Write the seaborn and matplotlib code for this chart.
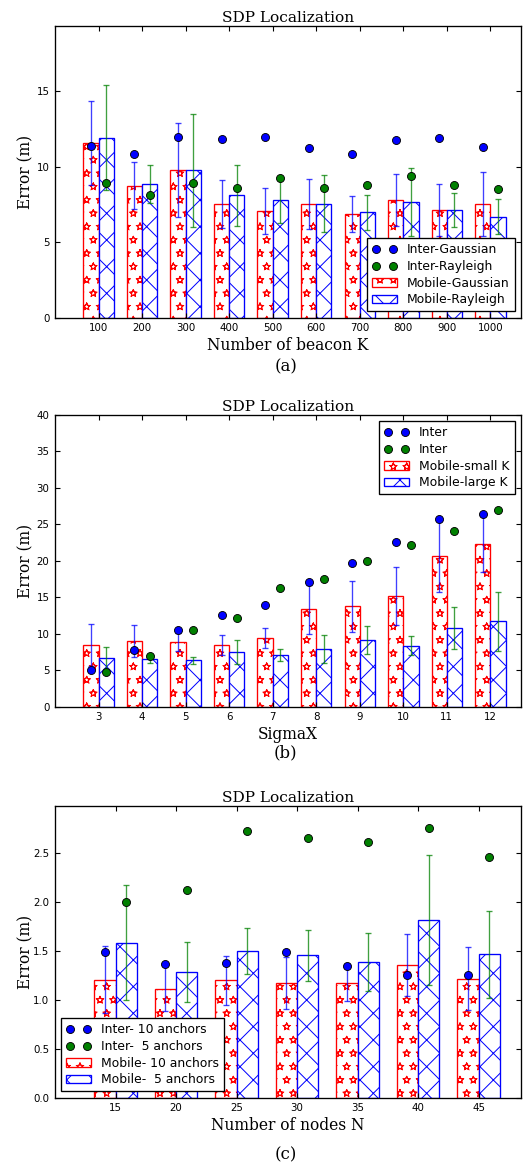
import numpy as np
import pandas as pd
import matplotlib
matplotlib.use('Agg')
import matplotlib.hatch
import matplotlib.pyplot as plt
import seaborn as sns
from matplotlib.lines import Line2D
from matplotlib.patches import Patch

# Panel (a): number of beacons K
beacons = [100, 200, 300, 400, 500, 600, 700, 800, 900, 1000]
a_mobile_gauss = [11.55, 8.74, 9.78, 7.51, 7.05, 7.51, 6.85, 7.77, 7.13, 7.53]
a_mobile_gauss_err = [2.76, 1.55, 3.10, 1.59, 1.52, 1.67, 1.18, 1.73, 1.70, 2.14]
a_mobile_rayl = [11.92, 8.85, 9.76, 8.09, 7.77, 7.53, 6.98, 7.68, 7.13, 6.69]
a_mobile_rayl_err = [3.45, 1.28, 3.74, 2.01, 1.50, 1.89, 1.15, 2.25, 1.10, 1.15]
a_inter_gauss = [11.37, 10.84, 11.97, 11.81, 11.95, 11.26, 10.84, 11.75, 11.88, 11.30]
a_inter_rayl = [8.90, 8.15, 8.94, 8.59, 9.21, 8.59, 8.79, 9.36, 8.81, 8.52]
a_labels = ['Inter-Gaussian', 'Inter-Rayleigh', 'Mobile-Gaussian', 'Mobile-Rayleigh']

# Panel (b): SigmaX
sigma = [3, 4, 5, 6, 7, 8, 9, 10, 11, 12]
b_mobile_small = [8.42, 9.01, 8.87, 8.46, 9.38, 13.36, 13.77, 15.23, 20.63, 22.36]
b_mobile_small_err = [2.88, 2.17, 1.27, 1.35, 1.37, 3.39, 3.50, 3.98, 4.90, 3.93]
b_mobile_large = [6.68, 6.59, 6.36, 7.50, 7.05, 7.92, 9.19, 8.33, 10.80, 11.71]
b_mobile_large_err = [1.47, 0.60, 0.52, 1.60, 0.85, 1.97, 1.94, 1.30, 2.93, 4.05]
b_inter_small = [5.03, 7.82, 10.52, 12.62, 13.91, 17.06, 19.71, 22.63, 25.70, 26.43]
b_inter_large = [4.72, 6.91, 10.52, 12.17, 16.33, 17.52, 20.03, 22.14, 24.06, 26.93]
b_labels = ['Inter', 'Inter', 'Mobile-small K', 'Mobile-large K']

# Panel (c): number of nodes N
nodes = [15, 20, 25, 30, 35, 40, 45]
c_mobile_10 = [1.207, 1.115, 1.197, 1.173, 1.173, 1.356, 1.214]
c_mobile_10_err = [0.34, 0.233, 0.25, 0.267, 0.19, 0.32, 0.32]
c_mobile_5 = [1.583, 1.282, 1.498, 1.456, 1.389, 1.812, 1.464]
c_mobile_5_err = [0.585, 0.305, 0.236, 0.26, 0.295, 0.664, 0.446]
c_inter_10 = [1.484, 1.368, 1.378, 1.484, 1.347, 1.255, 1.252]
c_inter_5 = [1.994, 2.12, 2.722, 2.65, 2.609, 2.759, 2.455]
c_labels = ['Inter- 10 anchors', 'Inter-  5 anchors', 'Mobile- 10 anchors', 'Mobile-  5 anchors']

DPI = 160
SERIF = 'DejaVu Serif'
plt.rcParams['hatch.linewidth'] = 0.45
plt.rcParams['axes.linewidth'] = 0.6
plt.rcParams['font.family'] = 'DejaVu Sans'
# outlined (not filled) small stars for the star hatch
matplotlib.hatch.Stars.filled = False
matplotlib.hatch.Stars.size = 0.27

fig = plt.figure(figsize=(524 / DPI, 1165 / DPI), dpi=DPI)


def draw_panel(rect, cats, mg, mg_err, mr, mr_err, ig, ir, labels,
               ylim, yticks, yfmt, loc, xlabel, caption, cap_y):
    ax = fig.add_axes(rect)
    n = len(cats)
    df = pd.DataFrame({'x': cats * 2, 'y': mg + mr,
                       'kind': ['g'] * n + ['r'] * n})
    sns.barplot(data=df, x='x', y='y', hue='kind', hue_order=['g', 'r'],
                palette={'g': 'red', 'r': 'blue'}, width=0.7,
                errorbar=None, legend=False, ax=ax)
    for cont, col, hat in zip(ax.containers, ['red', 'blue'], ['**', 'xx']):
        for bar in cont:
            bar.set_facecolor('white')
            bar.set_edgecolor(col)
            bar.set_hatch(hat)
            bar.set_linewidth(0.6)

    pos = np.arange(n)
    ax.errorbar(pos - 0.175, mg, yerr=mg_err, fmt='none', ecolor='blue',
                alpha=0.75, elinewidth=0.6, capsize=1.5, capthick=0.6, zorder=2)
    ax.errorbar(pos + 0.175, mr, yerr=mr_err, fmt='none', ecolor='green',
                alpha=0.75, elinewidth=0.6, capsize=1.5, capthick=0.6, zorder=2)
    sns.scatterplot(x=pos - 0.175, y=ig, color='blue', edgecolor='black',
                    linewidth=0.4, s=13, zorder=3, ax=ax)
    sns.scatterplot(x=pos + 0.175, y=ir, color='green', edgecolor='black',
                    linewidth=0.4, s=13, zorder=3, ax=ax)

    ax.set_xlim(-1, n - 1 + 0.7)
    ax.set_ylim(*ylim)
    ax.set_yticks(yticks)
    ax.set_yticklabels([yfmt % v for v in yticks])
    ax.set_xticks(pos)
    ax.set_xticklabels([str(c) for c in cats])
    ax.tick_params(direction='in', top=True, right=True, length=2.2,
                   width=0.5, labelsize=4.6, pad=2.5)

    ax.set_title('SDP Localization', fontfamily=SERIF, fontsize=6.9, pad=2)
    ax.set_xlabel(xlabel, fontfamily=SERIF, fontsize=7)
    ax.xaxis.set_label_coords(0.5, -0.065)
    ax.set_ylabel('Error (m)', fontfamily=SERIF, fontsize=7)
    ax.yaxis.set_label_coords(-0.045, 0.5)

    handles = [
        Line2D([], [], ls='none', marker='o', color='blue', mec='black',
               mew=0.4, ms=3.6),
        Line2D([], [], ls='none', marker='o', color='green', mec='black',
               mew=0.4, ms=3.6),
        Patch(facecolor='white', edgecolor='red', hatch='**', lw=0.6),
        Patch(facecolor='white', edgecolor='blue', hatch='xx', lw=0.6),
    ]
    leg = ax.legend(handles, labels, loc=loc, numpoints=2, fontsize=5.6,
                    fancybox=False, framealpha=1, edgecolor='black',
                    labelspacing=0.3)
    leg.get_frame().set_linewidth(0.6)

    fig.text(0.545, cap_y, caption, fontfamily=SERIF, fontsize=7.5,
             ha='center', va='center')
    return ax


draw_panel([0.105, 0.7273, 0.889, 0.2504], beacons,
           a_mobile_gauss, a_mobile_gauss_err, a_mobile_rayl, a_mobile_rayl_err,
           a_inter_gauss, a_inter_rayl, a_labels,
           (0, 19.3), [0, 5, 10, 15], '%d', 'lower right',
           'Number of beacon K', '(a)', 1 - 366.7 / 1165)

draw_panel([0.105, 0.3934, 0.889, 0.2504], sigma,
           b_mobile_small, b_mobile_small_err, b_mobile_large, b_mobile_large_err,
           b_inter_small, b_inter_large, b_labels,
           (0, 40), [0, 5, 10, 15, 20, 25, 30, 35, 40], '%d', 'upper right',
           'SigmaX', '(b)', 1 - 753 / 1165)

draw_panel([0.105, 0.0578, 0.889, 0.2504], nodes,
           c_mobile_10, c_mobile_10_err, c_mobile_5, c_mobile_5_err,
           c_inter_10, c_inter_5, c_labels,
           (0, 2.98), [0.0, 0.5, 1.0, 1.5, 2.0, 2.5], '%.1f', 'lower left',
           'Number of nodes N', '(c)', 1 - 1155 / 1165)

fig.savefig('out.png', dpi=DPI)
